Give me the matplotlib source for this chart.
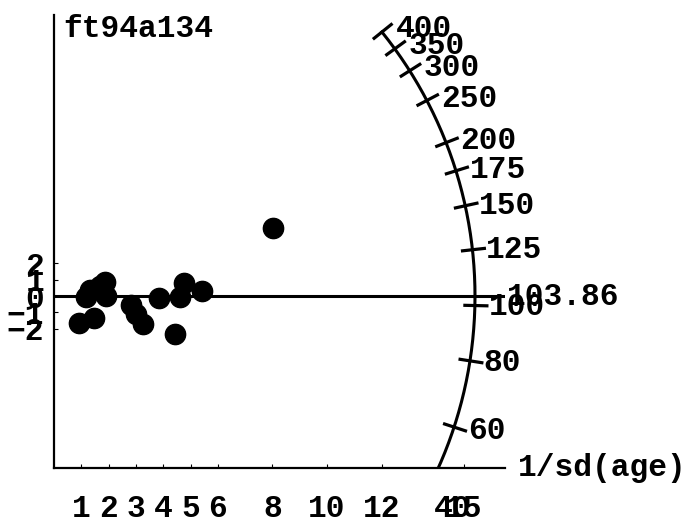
import numpy as np
import matplotlib.pyplot as plt

plt.rcParams['font.family'] = ['Liberation Mono', 'DejaVu Sans Mono']
plt.rcParams['font.weight'] = 'bold'
plt.rcParams['font.size'] = 22.5

sample = 'ft94a134'
central_age = 103.86

# grain precision (1/sd) and standardised estimate
precision = [0.92, 1.47, 1.17, 1.32, 1.68, 1.87, 1.90, 2.82, 3.00, 3.26,
             3.85, 4.43, 4.62, 4.76, 5.42, 8.02]
std_est = [-1.66, -1.35, -0.06, 0.37, 0.61, 0.86, 0.00, -0.55, -1.10, -1.72,
           -0.12, -2.33, -0.06, 0.80, 0.31, 4.17]

arc_ages = [40, 60, 80, 100, 125, 150, 175, 200, 250, 300, 350, 400]
x_ticks = [1, 2, 3, 4, 5, 6, 8, 10, 12, 15]
y_ticks = [-2, -1, 0, 1, 2]

W, H = 687, 527
fig = plt.figure(figsize=(W / 100, H / 100), dpi=100)
ax = fig.add_axes([54 / W, (H - 468) / H, (505 - 54) / W, (468 - 15) / H])
xmax, ymin, ymax = 16.52, -10.55, 17.24
ax.set_xlim(0, xmax)
ax.set_ylim(ymin, ymax)

# pixels per data unit, so the age scale comes out as a circle on screen
px_x = (505 - 54) / xmax
px_y = (468 - 15) / (ymax - ymin)
R = 421  # arc radius in pixels


def theta(age):
    return np.arctan(np.log(age / central_age) * px_y / px_x)


def arc_xy(th, r=R):
    return r * np.cos(th) / px_x, r * np.sin(th) / px_y


# age arc
ths = np.linspace(theta(400), theta(35), 200)
ax.plot(*arc_xy(ths), color='black', lw=2.2)

for age in arc_ages:
    th = theta(age)
    x0, y0 = arc_xy(th, R - 10)
    x1, y1 = arc_xy(th, R + 12)
    ax.plot([x0, x1], [y0, y1], color='black', lw=2.3)
    ax.annotate(str(age), arc_xy(th), xytext=(10, 5 * np.sin(th) - 1),
                textcoords='offset points', ha='left', va='center',
                annotation_clip=False)

# central age line
ax.plot([0, 16.45], [0, 0], color='black', lw=2.2)
ax.annotate(f'{central_age:.2f}', (16.45, 0), xytext=(3, -1),
            textcoords='offset points', ha='left', va='center',
            annotation_clip=False)

ax.plot(precision, std_est, 'o', color='black', ms=14.6, clip_on=False)

ax.spines[['top', 'right']].set_visible(False)
ax.spines[['left', 'bottom']].set_linewidth(1.6)
ax.set_xticks(x_ticks)
ax.set_yticks(y_ticks)
ax.tick_params(axis='x', direction='in', length=3, pad=19)
ax.tick_params(axis='y', direction='in', length=3, pad=7)

ax.text(0.02, 0.969, sample, transform=ax.transAxes, ha='left', va='center')
ax.text(1.029, 0, '1/sd(age)', transform=ax.transAxes, ha='left',
        va='center', clip_on=False)

fig.savefig('out.png', dpi=100)
